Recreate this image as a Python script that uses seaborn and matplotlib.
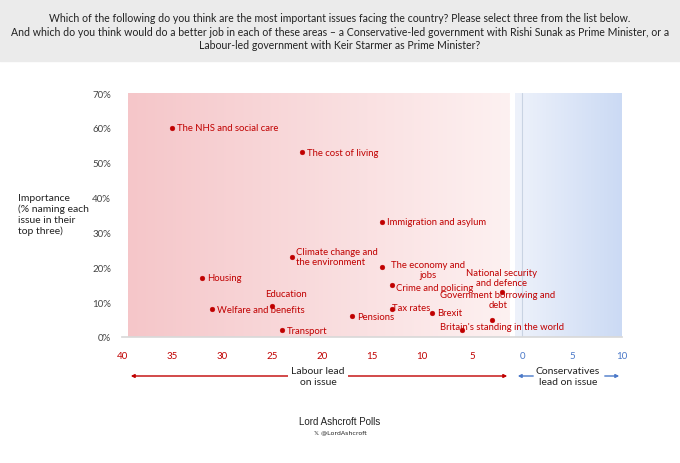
import matplotlib.pyplot as plt
import numpy as np
import seaborn as sns
from matplotlib.colors import LinearSegmentedColormap

sns.set_theme(style="white")
plt.rcParams["font.family"] = ["Lato", "DejaVu Sans"]

issues = ["The NHS and social care", "The cost of living", "Immigration and asylum",
          "Climate change and\nthe environment", "The economy and\njobs", "Housing",
          "National security\nand defence", "Crime and policing", "Education",
          "Welfare and benefits", "Tax rates", "Brexit", "Government borrowing and\ndebt",
          "Pensions", "Britain's standing in the world", "Transport"]
labour_lead = [35, 22, 14, 23, 14, 32, 2, 13, 25, 31, 13, 9, 3, 17, 6, 24]
importance = [60, 53, 33, 23, 20, 17, 13, 15, 9, 8, 8, 7, 5, 6, 2, 2]

# label offsets in pixels and alignment
offsets = [(5, 0, "left", "center"), (5, 0, "left", "center"), (5, 0, "left", "center"),
           (4, 0, "left", "center"), (46, -2, "center", "center"), (5, 0, "left", "center"),
           (0, 14, "center", "center"), (4, -3, "left", "center"), (14, 12, "center", "center"),
           (5, 0, "left", "center"), (0, 2, "left", "center"), (5, 0, "left", "center"),
           (6, 20, "center", "center"), (5, 0, "left", "center"), (40, 4, "center", "center"),
           (5, 0, "left", "center")]

RED = "#c00000"
BLUE = "#4a78c8"

fig = plt.figure(figsize=(6.8, 4.64), dpi=100)
fig.patches.append(plt.Rectangle((0, 1 - 62 / 464), 1, 62 / 464, transform=fig.transFigure,
                                 color="#ebebeb", zorder=0))
fig.text(0.5, 0.972, "Which of the following do you think are the most important issues facing the country? Please select three from the list below.\n"
         "And which do you think would do a better job in each of these areas – a Conservative-led government with Rishi Sunak as Prime Minister, or a\n"
         "Labour-led government with Keir Starmer as Prime Minister?",
         ha="center", va="top", fontsize=7.6, color="#222222", linespacing=1.3)

ax = fig.add_axes([122 / 680, 1 - 338 / 464, 500 / 680, 244 / 464])
x = [-v for v in labour_lead]

red_cmap = LinearSegmentedColormap.from_list("r", ["#f5c6c9", "#fdf1f1"])
blue_cmap = LinearSegmentedColormap.from_list("b", ["#eef2fb", "#cbdaf4"])
grad = np.linspace(0, 1, 256).reshape(1, -1)
ax.imshow(grad, cmap=red_cmap, extent=(-39.4, -1.2, 0, 70), aspect="auto", zorder=0)
ax.imshow(grad, cmap=blue_cmap, extent=(-0.7, 10, 0, 70), aspect="auto", zorder=0)
ax.axvline(0, color="#c9d3e3", lw=0.8, zorder=1)

sns.scatterplot(x=x, y=importance, color=RED, s=12, edgecolor=RED, ax=ax, zorder=3)
for name, xi, yi, (dx, dy, ha, va) in zip(issues, x, importance, offsets):
    ax.annotate(name, (xi, yi), xytext=(dx, dy), textcoords="offset pixels",
                ha=ha, va=va, fontsize=6.8, color=RED, linespacing=1.1)

ax.set_xlim(-40, 10)
ax.set_ylim(0, 70)
xt = [-40, -35, -30, -25, -20, -15, -10, -5, 0, 5, 10]
ax.set_xticks(xt)
ax.set_xticklabels([str(abs(t)) for t in xt], fontsize=7)
for lab, t in zip(ax.get_xticklabels(), xt):
    lab.set_color(RED if t < 0 else BLUE)
ax.set_yticks(range(0, 71, 10))
ax.set_yticklabels([f"{v}%" for v in range(0, 71, 10)], fontsize=7, color="#444444")
ax.tick_params(axis="x", pad=10, length=0)
ax.tick_params(axis="y", pad=8, length=0)
for s in ["top", "right", "left"]:
    ax.spines[s].set_visible(False)
ax.spines["bottom"].set_color("#d9d9d9")

fig.text(18 / 680, 1 - 215 / 464, "Importance\n(% naming each\nissue in their\ntop three)",
         ha="left", va="center", fontsize=7.5, color="#222222", linespacing=1.25)

# lead arrows
ya = 1 - 377 / 464
fig.add_artist(plt.Annotation("", xy=(128 / 680, ya), xytext=(510 / 680, ya), xycoords="figure fraction",
                              arrowprops=dict(arrowstyle="<|-|>", color=RED, lw=1, mutation_scale=5)))
fig.add_artist(plt.Annotation("", xy=(515 / 680, ya), xytext=(536 / 680, ya), xycoords="figure fraction",
                              arrowprops=dict(arrowstyle="-|>", color=BLUE, lw=1, mutation_scale=5)))
fig.add_artist(plt.Annotation("", xy=(622 / 680, ya), xytext=(602 / 680, ya), xycoords="figure fraction",
                              arrowprops=dict(arrowstyle="-|>", color=BLUE, lw=1, mutation_scale=5)))
fig.text(318 / 680, ya, "Labour lead\non issue", ha="center", va="center", fontsize=7.5,
         color="#222222", bbox=dict(fc="white", ec="none", pad=2))
fig.text(568 / 680, ya, "Conservatives\nlead on issue", ha="center", va="center", fontsize=7.5,
         color="#222222")

fig.text(340 / 680, 1 - 422 / 464, "Lord Ashcroft Polls", ha="center", va="center",
         fontsize=7, color="#222222", family=["Liberation Sans", "DejaVu Sans"])
fig.text(340 / 680, 1 - 433 / 464, "𝕏 @LordAshcroft", ha="center", va="center",
         fontsize=4.5, color="#222222", family=["DejaVu Sans"])

plt.savefig("out.png", dpi=100)
plt.close(fig)
